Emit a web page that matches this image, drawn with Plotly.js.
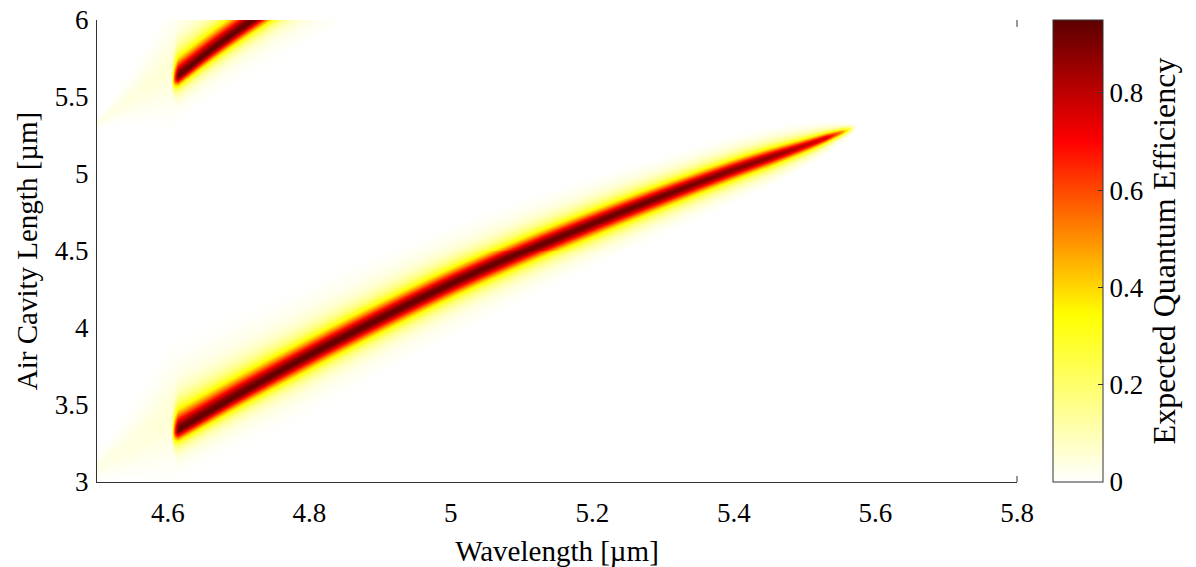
<!DOCTYPE html>
<html>
<head>
<meta charset="utf-8">
<script src="https://cdn.plot.ly/plotly-3.0.1.min.js"></script>
<style>html,body{margin:0;padding:0;background:#fff;}#chart{width:1196px;height:567px;}</style>
</head>
<body>
<div id="chart"></div>
<script>
// ---- values ----
// lower resonance ridge: centre line (wavelength µm -> air cavity length µm)
const lowerLambda = [4.611, 4.70, 4.80, 4.90, 5.00, 5.10, 5.20, 5.30, 5.40, 5.50, 5.564, 5.62];
const lowerL      = [3.33, 3.569, 3.823, 4.060, 4.285, 4.490, 4.680, 4.860, 5.030, 5.185, 5.290, 5.37];
// upper resonance ridge centre line
const upperLambda = [4.609, 4.665, 4.721, 4.78, 4.90];
const upperL      = [5.615, 5.816, 6.00, 6.18, 6.50];
// ridge line width (µm of cavity length) along wavelength
const widthLambda = [4.61, 4.90, 5.17, 5.31, 5.44, 5.51, 5.55, 5.58];
const lowerWidth  = [0.11, 0.105, 0.095, 0.085, 0.07, 0.05, 0.03, 0.02];
const upperWidth  = [0.10, 0.11, 0.11, 0.11, 0.11, 0.11, 0.11, 0.11];
// peak efficiency along the ridges
const peakLambda  = [4.604, 4.609, 4.614, 5.30, 5.45, 5.53, 5.552, 5.563, 5.573];
const lowerPeak   = [0.0, 0.6, 0.95, 0.95, 0.90, 0.78, 0.55, 0.28, 0.0];
const upperPeak   = [0.0, 0.6, 0.95, 0.95, 0.95, 0.95, 0.95, 0.95, 0.95];
// asymmetry of the ridge halo (above / below the centre line)
const asymLambda  = [4.61, 4.78, 5.0, 5.3];
const asymAbove   = [1.30, 1.10, 1.05, 1.0];
const asymBelow   = [0.70, 0.90, 0.95, 1.0];
// level below which the faint halo vanishes to white
const cutLambda   = [4.61, 4.80, 5.10, 5.30, 5.50];
const cutLevel    = [0.012, 0.012, 0.02, 0.03, 0.03];
// faint skirt below the cut-on wavelength
const skirtLambda = [4.50, 4.55, 4.605];
const lowerSkirtL = [3.10, 3.25, 3.45];
const lowerSkirtW = [0.08, 0.20, 0.33];
const upperSkirtL = [5.33, 5.50, 5.70];
const upperSkirtW = [0.03, 0.14, 0.30];
const skirtPeak   = [0.045, 0.055, 0.07];
const skirtEnd = 4.611;
// axes
const xRange = [4.5, 5.8];
const yRange = [3, 6];
const xTickVals = [4.6, 4.8, 5.0, 5.2, 5.4, 5.6, 5.8];
const xTickText = ['4.6', '4.8', '5', '5.2', '5.4', '5.6', '5.8'];
const yTickVals = [3, 3.5, 4, 4.5, 5, 5.5, 6];
const yTickText = ['3', '3.5', '4', '4.5', '5', '5.5', '6'];
const cbTickVals = [0, 0.2, 0.4, 0.6, 0.8];
const cbTickText = ['0', '0.2', '0.4', '0.6', '0.8'];
const zMax = 0.95;

// ---- helpers ----
function interpClamp(xs, ys, x) {
  if (x <= xs[0]) return ys[0];
  const n = xs.length;
  if (x >= xs[n - 1]) return ys[n - 1];
  for (let i = 0; i < n - 1; i++) {
    if (x <= xs[i + 1]) {
      const t = (x - xs[i]) / (xs[i + 1] - xs[i]);
      return ys[i] + t * (ys[i + 1] - ys[i]);
    }
  }
  return ys[n - 1];
}
// smooth cubic Hermite through the read points (linear extrapolation outside)
function interpSmooth(xs, ys, x) {
  const n = xs.length;
  if (x < xs[0]) { const s = (ys[1] - ys[0]) / (xs[1] - xs[0]); return ys[0] + s * (x - xs[0]); }
  if (x > xs[n - 1]) { const s = (ys[n - 1] - ys[n - 2]) / (xs[n - 1] - xs[n - 2]); return ys[n - 1] + s * (x - xs[n - 1]); }
  let i = 0;
  while (i < n - 2 && x > xs[i + 1]) i++;
  const slope = k => {
    if (k === 0) return (ys[1] - ys[0]) / (xs[1] - xs[0]);
    if (k === n - 1) return (ys[n - 1] - ys[n - 2]) / (xs[n - 1] - xs[n - 2]);
    return (ys[k + 1] - ys[k - 1]) / (xs[k + 1] - xs[k - 1]);
  };
  const h = xs[i + 1] - xs[i], t = (x - xs[i]) / h;
  const t2 = t * t, t3 = t2 * t;
  return (2 * t3 - 3 * t2 + 1) * ys[i] + (t3 - 2 * t2 + t) * h * slope(i) +
         (-2 * t3 + 3 * t2) * ys[i + 1] + (t3 - t2) * h * slope(i + 1);
}
function profile(d, w, above, below) {
  const u = d / (w * (d > 0 ? above : below));
  return 1 / Math.pow(1 + u * u, 1.5);
}

// ---- grid ----
const nx = 921, ny = 465;
const xs = [], ys = [];
for (let i = 0; i < nx; i++) xs.push(xRange[0] + (xRange[1] - xRange[0]) * i / (nx - 1));
for (let j = 0; j < ny; j++) ys.push(yRange[0] + (yRange[1] - yRange[0]) * j / (ny - 1));

const z = [];
for (let j = 0; j < ny; j++) z.push(new Array(nx).fill(0));
for (let i = 0; i < nx; i++) {
  const lam = xs[i];
  const cLo = interpSmooth(lowerLambda, lowerL, lam);
  const cUp = interpSmooth(upperLambda, upperL, lam);
  const wLo = interpSmooth(widthLambda, lowerWidth, Math.min(Math.max(lam, 4.61), 5.58));
  const wUp = interpClamp(widthLambda, upperWidth, lam);
  const pLo = interpClamp(peakLambda, lowerPeak, lam);
  const pUp = interpClamp(peakLambda, upperPeak, lam);
  const aA = interpClamp(asymLambda, asymAbove, lam);
  const aB = interpClamp(asymLambda, asymBelow, lam);
  const cut = interpClamp(cutLambda, cutLevel, lam);
  const inSkirt = lam < skirtEnd;
  const sLo = interpClamp(skirtLambda, lowerSkirtL, lam);
  const sLoW = interpClamp(skirtLambda, lowerSkirtW, lam);
  const sUp = interpClamp(skirtLambda, upperSkirtL, lam);
  const sUpW = interpClamp(skirtLambda, upperSkirtW, lam);
  const sP = interpClamp(skirtLambda, skirtPeak, lam);
  for (let j = 0; j < ny; j++) {
    const L = ys[j];
    let v = 0;
    if (pLo > 0) v = Math.max(v, pLo * profile(L - cLo, Math.max(wLo, 0.015), aA, aB));
    if (pUp > 0) v = Math.max(v, pUp * profile(L - cUp, wUp, aA, aB));
    if (inSkirt) {
      v = Math.max(v, sP * profile(L - sLo, sLoW, 1, 1));
      v = Math.max(v, sP * profile(L - sUp, sUpW, 1, 1));
    }
    v = Math.max(0, v - cut);
    z[j][i] = Math.min(v, zMax);
  }
}

const fontFam = 'Liberation Serif, Times New Roman, serif';

const trace = {
  type: 'heatmap',
  x: xs, y: ys, z: z,
  zmin: 0, zmax: zMax,
  zsmooth: false,
  hoverinfo: 'skip',
  colorscale: [[0, '#ffffff'], [0.362, '#ffff00'], [0.737, '#ff0000'], [1, '#5c0000']],
  colorbar: {
    thickness: 50, thicknessmode: 'pixels',
    len: 1, lenmode: 'fraction',
    xref: 'paper', yref: 'paper',
    x: (1053 - 97) / 920, xanchor: 'left',
    y: 0, yanchor: 'bottom',
    xpad: 0, ypad: 0,
    outlinewidth: 1, outlinecolor: '#333',
    ticks: 'inside', ticklen: 5, tickcolor: '#333',
    tickvals: cbTickVals, ticktext: cbTickText,
    tickfont: {family: fontFam, size: 27, color: '#000'},
    title: {text: 'Expected Quantum Efficiency', side: 'right', font: {family: fontFam, size: 32, color: '#000'}}
  }
};

const layout = {
  width: 1196, height: 567,
  margin: {l: 97, r: 179, t: 20, b: 84.5, pad: 0},
  paper_bgcolor: '#ffffff', plot_bgcolor: '#ffffff',
  font: {family: fontFam, size: 27, color: '#000'},
  showlegend: false,
  xaxis: {
    range: xRange, tickvals: xTickVals, ticktext: xTickText,
    ticks: '', showline: true, linecolor: '#333', linewidth: 1,
    showgrid: false, zeroline: false, ticklabelstandoff: 7,
    tickfont: {family: fontFam, size: 27, color: '#000'},
    title: {text: 'Wavelength [µm]', font: {family: fontFam, size: 29, color: '#000'}, standoff: 14}
  },
  yaxis: {
    range: yRange, tickvals: yTickVals, ticktext: yTickText,
    ticks: '', showline: true, linecolor: '#333', linewidth: 1,
    showgrid: false, zeroline: false, ticklabelstandoff: 2,
    tickfont: {family: fontFam, size: 27, color: '#000'},
    title: {text: 'Air Cavity Length [µm]', font: {family: fontFam, size: 29, color: '#000'}, standoff: 8}
  },
  shapes: [
    {type: 'line', xref: 'paper', yref: 'paper', x0: 1, x1: 1, y0: 0, y1: 0.013, line: {color: '#333', width: 1}},
    {type: 'line', xref: 'paper', yref: 'paper', x0: 1, x1: 1, y0: 1, y1: 0.985, line: {color: '#333', width: 1}}
  ]
};

Plotly.newPlot('chart', [trace], layout, {displayModeBar: false, staticPlot: true});
</script>
</body>
</html>
